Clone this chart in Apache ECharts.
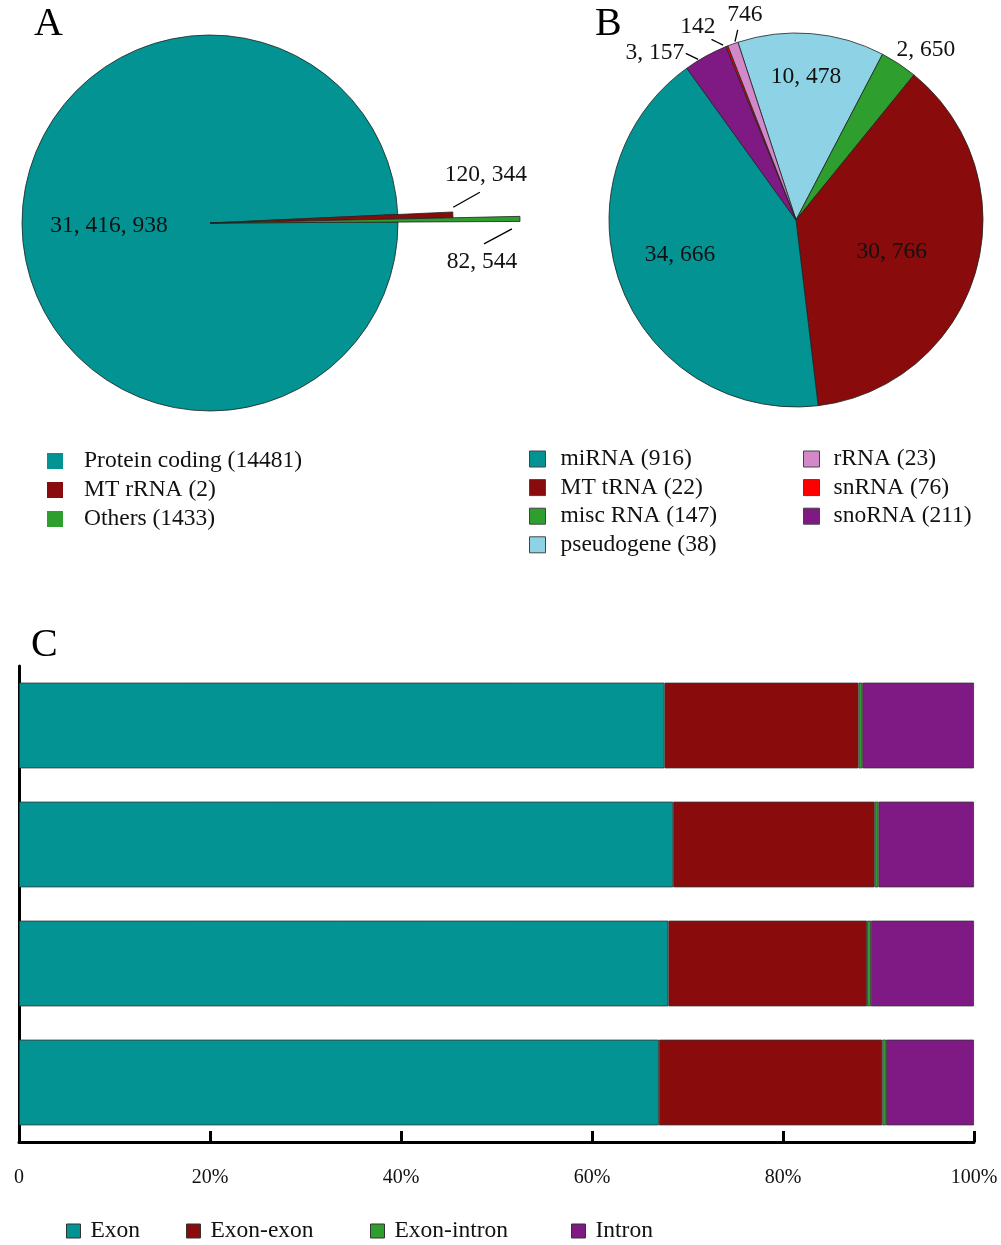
<!DOCTYPE html>
<html><head><meta charset="utf-8">
<script src="https://cdn.jsdelivr.net/npm/echarts@6/dist/echarts.min.js"></script>
<style>html,body{margin:0;padding:0;background:#fff}#main{width:1001px;height:1245px}</style>
</head><body><div id="main"></div>
<script>
// ---------- Panel A data ----------
const namesA = ['Protein coding', 'MT rRNA', 'Others'];
const countsA = [14481, 2, 1433];
const readsA = [31416938, 120344, 82544];
// ---------- Panel B data ----------
const namesB = ['miRNA', 'MT tRNA', 'misc RNA', 'pseudogene', 'rRNA', 'snRNA', 'snoRNA'];
const countsB = [916, 22, 147, 38, 23, 76, 211];
const readsB = [34666, 30766, 2650, 10478, 746, 142, 3157];
// ---------- Panel C data ----------
const categoriesC = ['1', '2', '3', '4'];
const seriesNamesC = ['Exon', 'Exon-exon', 'Exon-intron', 'Intron'];
const exon = [67.6, 68.5, 68.0, 67.0];
const exonExon = [20.3, 21.1, 20.8, 23.4];
const exonIntron = [0.4, 0.4, 0.4, 0.4];
const intron = [11.7, 10.0, 10.8, 9.2];
const xTicksC = [0, 20, 40, 60, 80, 100];

// ---------- styles ----------
const FONT = '"Liberation Serif", "DejaVu Serif", serif';
const colorsA = ['#039393', '#8a0b0b', '#2e9f2e'];
const colorsB = ['#039393', '#8a0b0b', '#2e9f2e', '#8dd3e5', '#d389c9', '#ff0000', '#7f1a85'];
const colorsC = ['#039393', '#8a0b0b', '#2e9f2e', '#7f1a85'];
const fmtNum = v => String(v).replace(/\B(?=(\d{3})+(?!\d))/g, ', ');

const legendA = namesA.map((n, i) => `${n} (${countsA[i]})`);
const legendB = namesB.map((n, i) => `${n} (${countsB[i]})`);

// label placement tweaks (offsets relative to library anchor)
const placeA = {
  0: { dx: -4, dy: 0 },
  1: { label: [33, -40], l0: [0.4, -7.6], l1: [27, -22.6] },
  2: { label: [-38, 43], l0: [-8, 10], l1: [-36, 25] }
};
const placeB = {
  0: { dx: -26, dy: 0 },
  1: { dx: 3, dy: 5 },
  3: { dx: 2, dy: -47 },
  2: { label: [27, -14] },
  6: { label: [-51, -3], l0: [-20, -2.8], l1: [-7.6, 3.2] },
  5: { label: [-29, -19], l0: [-15.5, -6.8], l1: [-3.9, -1.1] },
  4: { label: [12, -29], l0: [4.8, -14], l1: [2.1, -2.3] }
};

function makeLayout(place, idxOf) {
  return function (params) {
    const p = place[idxOf(params)];
    if (!p) return {};
    if (p.dx !== undefined) return { dx: p.dx, dy: p.dy };
    const pts = params.labelLinePoints;
    if (!pts || !pts[0]) return {};
    const a = pts[0];
    const out = {
      x: a[0] + p.label[0], y: a[1] + p.label[1],
      align: 'center', verticalAlign: 'middle'
    };
    if (p.l0) {
      const s = [a[0] + p.l0[0], a[1] + p.l0[1]];
      const e = [a[0] + p.l1[0], a[1] + p.l1[1]];
      out.labelLinePoints = [s, [(s[0] + e[0]) / 2, (s[1] + e[1]) / 2], e];
    } else {
      out.labelLinePoints = [a, a, a];
    }
    return out;
  };
}

// ---------- Pie A: three concentric series (different radii) ----------
const orderA = [1, 2, 0];
const radiiA = [188, 243, 310];
const seriesA = [0, 1, 2].map(i => ({
  type: 'pie',
  center: [210, 223],
  radius: [0, radiiA[i]],
  startAngle: 2.6,
  clockwise: true,
  avoidLabelOverlap: false,
  animation: false,
  silent: true,
  z: 2 + (i === 0 ? 0 : 1),
  data: orderA.map(j => j === i ? {
    name: legendA[j], value: readsA[j],
    itemStyle: { color: colorsA[j], borderColor: '#222', borderWidth: 0.8 },
    label: {
      show: true, position: j === 0 ? 'inside' : 'outside',
      formatter: () => fmtNum(readsA[j]), fontFamily: FONT, fontSize: 23.5, color: '#111'
    },
    labelLine: { show: j !== 0, length: 10, length2: 0, lineStyle: { color: '#000', width: 1.3 } }
  } : {
    name: '_h' + j, value: readsA[j],
    itemStyle: { color: 'rgba(0,0,0,0)', borderWidth: 0 },
    label: { show: false }, labelLine: { show: false }
  }),
  labelLayout: makeLayout(placeA, () => i)
}));

// ---------- Pie B ----------
const orderB = [3, 2, 1, 0, 6, 5, 4];
const insideB = [0, 1, 3];
const seriesB = {
  type: 'pie',
  center: [796, 220],
  radius: [0, 187],
  startAngle: 108.1,
  clockwise: true,
  avoidLabelOverlap: false,
  animation: false,
  silent: true,
  itemStyle: { borderColor: '#222', borderWidth: 0.8 },
  data: orderB.map(j => ({
    name: legendB[j], value: readsB[j],
    itemStyle: { color: colorsB[j] },
    label: {
      show: true, position: insideB.includes(j) ? 'inside' : 'outside',
      formatter: () => fmtNum(readsB[j]), fontFamily: FONT, fontSize: 23.5, color: '#111'
    },
    labelLine: { show: !insideB.includes(j) && j !== 2, length: 10, length2: 0, lineStyle: { color: '#000', width: 1.3 } }
  })),
  labelLayout: makeLayout(placeB, p => orderB[p.dataIndex])
};

// ---------- Panel C bars ----------
const valuesC = [exon, exonExon, exonIntron, intron];
const seriesC = seriesNamesC.map((n, k) => ({
  type: 'bar', name: n, stack: 'all', barWidth: '72%',
  xAxisIndex: 0, yAxisIndex: 0,
  animation: false, silent: true,
  itemStyle: { color: colorsC[k], borderColor: '#333', borderWidth: 0.8 },
  data: valuesC[k]
}));

const legendText = { fontFamily: FONT, fontSize: 23.5, color: '#111', lineHeight: 23 };
const legendCLeft = [66, 186, 370, 571];
const legendsC = seriesNamesC.map((n, k) => ({
  data: [n], orient: 'horizontal', left: legendCLeft[k], top: 1219, padding: 0,
  itemWidth: 14, itemHeight: 14, icon: 'rect', selectedMode: false,
  itemStyle: { borderColor: '#333', borderWidth: 1 },
  textStyle: Object.assign({ padding: [0, 0, 0, 5] }, legendText)
}));

const titleStyle = { fontFamily: FONT, fontSize: 40, fontWeight: 'normal', color: '#000' };

const option = {
  backgroundColor: '#fff',
  animation: false,
  title: [
    { text: 'A', left: 34, top: 4, padding: 0, textStyle: titleStyle },
    { text: 'B', left: 595, top: 4, padding: 0, textStyle: titleStyle },
    { text: 'C', left: 31, top: 625, padding: 0, textStyle: titleStyle }
  ],
  legend: [
    {
      data: legendA, orient: 'vertical', left: 47, top: 449, padding: 0,
      itemWidth: 16, itemHeight: 16, itemGap: 5, icon: 'rect', selectedMode: false,
      itemStyle: { borderWidth: 0 },
      textStyle: Object.assign({ padding: [0, 0, 0, 16] }, legendText)
    },
    {
      data: legendB.slice(0, 4), orient: 'vertical', left: 529, top: 447, padding: 0,
      itemWidth: 16, itemHeight: 16, itemGap: 4.6, icon: 'rect', selectedMode: false,
      itemStyle: { borderColor: '#444', borderWidth: 1 },
      textStyle: Object.assign({ padding: [0, 0, 0, 10] }, legendText)
    },
    {
      data: legendB.slice(4), orient: 'vertical', left: 803, top: 447, padding: 0,
      itemWidth: 16, itemHeight: 16, itemGap: 4.6, icon: 'rect', selectedMode: false,
      itemStyle: { borderColor: '#444', borderWidth: 1 },
      textStyle: Object.assign({ padding: [0, 0, 0, 9] }, legendText)
    },
    ...legendsC
  ],
  grid: { left: 19, right: 27, top: 666, bottom: 103, containLabel: false },
  xAxis: {
    type: 'value', min: xTicksC[0], max: xTicksC[xTicksC.length - 1], interval: xTicksC[1] - xTicksC[0],
    axisLine: { show: true, lineStyle: { color: '#000', width: 3 } },
    axisTick: { show: true, inside: true, length: 11, lineStyle: { color: '#000', width: 3 } },
    splitLine: { show: false },
    axisLabel: { formatter: v => v === 0 ? '0' : v + '%', margin: 26, fontFamily: FONT, fontSize: 20, color: '#111' }
  },
  yAxis: {
    type: 'category', data: categoriesC, inverse: true,
    axisLine: { show: true, lineStyle: { color: '#000', width: 3 } },
    axisTick: { show: false }, axisLabel: { show: false }, splitLine: { show: false }
  },
  series: [...seriesA, seriesB, ...seriesC]
};

const chart = echarts.init(document.getElementById('main'), null, { renderer: 'canvas' });
chart.setOption(option);
</script>
</body></html>
